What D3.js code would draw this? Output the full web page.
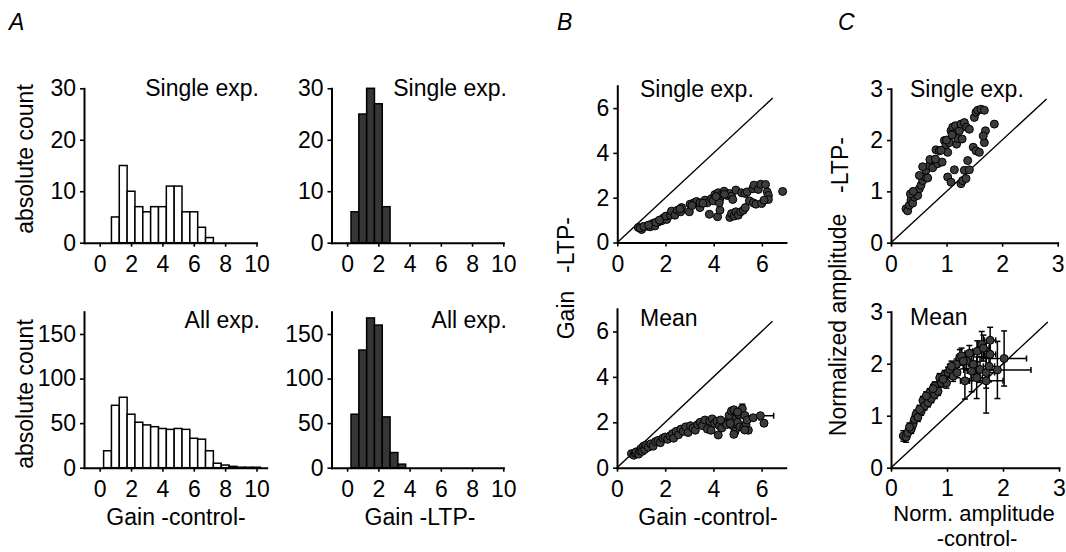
<!DOCTYPE html>
<html><head><meta charset="utf-8">
<script src="https://cdn.jsdelivr.net/npm/d3@7"></script>
<style>
body{margin:0;background:#fff;}
svg text{font-family:"Liberation Sans",Arial,Helvetica,sans-serif;}
</style></head><body>
<svg id="chart" width="1066" height="552"></svg>
<script>
// ---------- DATA ----------
const binWidth = 0.5;
const histTicksX = [0, 2, 4, 6, 8, 10];
const histTicksYSingle = [0, 10, 20, 30];
const histTicksYAll = [0, 50, 100, 150];

const singleControlBins = [0.75,1.25,1.75,2.25,2.75,3.25,3.75,4.25,4.75,5.25,5.75,6.25,6.75];
const singleControlCounts = [5,15,10,7,6,7,7,11,11,6,6,3,1];
const singleLTPBins = [0.25,0.75,1.25,1.75,2.25];
const singleLTPCounts = [6,25,30,27,7];
const allControlBins = [0.25,0.75,1.25,1.75,2.25,2.75,3.25,3.75,4.25,4.75,5.25,5.75,6.25,6.75,7.25,7.75,8.25,8.75,9.25,9.75];
const allControlCounts = [19,70,79,60,51,48,46,44,43,44,43,33,32,19,5,3,1.5,0.6,0.5,0.5];
const allLTPBins = [0.25,0.75,1.25,1.75,2.25,2.75,3.25];
const allLTPCounts = [60,132,168,160,57,17,4];

const gainTicks = [0, 2, 4, 6];
const ampTicks = [0, 1, 2, 3];
const gainIdentityMax = 6.45;
const ampIdentityMax = 2.8;

// B single experiment: gain control vs gain LTP
const bSingleX = [0.87,1.01,1.22,1.36,1.47,1.56,1.70,1.84,1.91,2.05,2.02,2.21,2.25,2.39,2.49,2.63,2.67,2.99,3.02,3.18,3.29,3.43,3.43,3.64,3.73,3.91,3.98,4.05,4.19,4.26,4.36,4.43,4.56,4.65,4.74,4.79,4.92,5.16,5.30,5.39,5.62,5.67,5.85,5.95,6.15,6.22,6.27,6.27,6.86,
  3.82,4.16,4.26,4.23,4.67,4.74,4.85,4.92,5.02,5.12,5.23,5.31,5.48,5.64,5.75,5.99,6.09,
  0.95,1.10,1.30,1.60,1.75,2.60,3.10,3.55,4.10,4.45];
const bSingleY = [0.67,0.58,0.73,0.70,0.85,0.74,0.92,0.97,1.09,1.03,1.18,1.22,1.40,1.22,1.44,1.37,1.56,1.37,1.71,1.77,1.83,1.56,1.77,1.89,1.77,1.96,1.86,2.14,2.22,1.96,2.16,2.29,2.10,2.19,2.07,1.92,2.34,2.22,2.19,2.26,2.40,2.56,2.37,2.60,2.59,2.26,2.10,1.92,2.28,
  1.26,1.15,1.44,1.77,1.12,1.29,1.18,1.37,1.22,1.37,1.44,1.56,1.86,1.77,1.71,1.74,1.89,
  0.65,0.72,0.78,0.90,1.00,1.50,1.65,1.75,2.05,2.15];

// B mean
const bMeanX = [0.6,0.7,0.75,0.8,0.9,0.95,1.0,1.05,1.1,1.15,
  1.2,1.3,1.4,1.5,1.6,1.7,1.8,1.9,2.0,2.1,
  2.2,2.3,2.35,2.45,2.55,2.65,2.75,2.85,2.95,3.05,
  3.15,3.25,3.35,3.45,3.55,3.65,3.75,3.85,3.95,4.05,
  4.15,4.25,4.35,4.45,4.55,4.65,4.75,4.8,4.85,4.9,
  4.95,5.0,5.05,5.1,5.2,5.25,5.3,5.35,5.4,5.45,
  5.65,5.95,6.1,4.3,3.9,4.7,5.0,4.2,4.85,5.3];
const bMeanY = [0.62,0.55,0.65,0.70,0.60,0.75,0.85,0.72,0.95,0.80,
  1.00,0.90,1.05,0.95,1.15,1.20,1.10,1.30,1.35,1.25,
  1.40,1.50,1.30,1.60,1.45,1.70,1.60,1.80,1.55,1.85,
  1.75,1.65,1.90,2.00,1.85,2.10,1.70,2.05,2.15,1.95,
  2.05,1.85,1.75,2.00,1.90,2.30,2.50,1.85,2.55,1.60,
  2.20,2.00,2.35,1.80,2.60,1.75,2.30,1.90,2.10,1.65,
  2.20,2.29,1.96,2.10,1.65,1.95,2.45,1.44,1.47,1.66];
const bMeanXErr = [0.05,0.05,0.05,0.05,0.05,0.05,0.05,0.05,0.05,0.05,
  0.05,0.05,0.05,0.05,0.05,0.05,0.05,0.05,0.05,0.05,
  0.06,0.06,0.06,0.06,0.06,0.06,0.06,0.06,0.06,0.06,
  0.08,0.08,0.08,0.08,0.08,0.08,0.08,0.08,0.08,0.08,
  0.1,0.1,0.1,0.1,0.1,0.1,0.1,0.1,0.1,0.1,
  0.12,0.12,0.12,0.12,0.12,0.12,0.12,0.12,0.12,0.12,
  0.25,0.55,0.1,0.1,0.08,0.1,0.12,0.1,0.1,0.12];
const bMeanYErr = [0.05,0.05,0.05,0.05,0.05,0.05,0.05,0.05,0.05,0.05,
  0.05,0.05,0.05,0.05,0.05,0.05,0.05,0.05,0.05,0.05,
  0.06,0.06,0.06,0.06,0.06,0.06,0.06,0.06,0.06,0.06,
  0.08,0.08,0.08,0.08,0.08,0.08,0.08,0.08,0.08,0.08,
  0.08,0.08,0.08,0.08,0.08,0.1,0.1,0.08,0.12,0.1,
  0.1,0.1,0.1,0.1,0.2,0.1,0.1,0.1,0.1,0.1,
  0.1,0.1,0.1,0.08,0.08,0.1,0.1,0.1,0.1,0.1];

// C single experiment: normalized amplitude
const cSingleX = [0.27,0.30,0.33,0.36,0.39,0.42,0.45,0.48,0.51,0.54,0.57,0.60,0.63,0.66,
  0.69,0.75,0.78,0.84,0.81,0.87,0.92,0.96,0.99,1.02,
  1.05,1.08,1.11,1.14,1.16,1.18,1.20,1.23,1.26,1.28,
  1.32,1.36,1.41,1.50,1.53,1.56,1.62,1.68,1.86,
  1.02,1.08,1.14,1.26,1.29,1.32,1.35,1.38,1.41,1.48,1.53,1.59,1.68,1.70,1.66,
  0.35,0.40,0.57,0.51,0.70,0.80,0.90,1.00,1.10];
const cSingleY = [0.66,0.62,0.73,0.83,0.77,0.89,0.99,0.92,1.05,1.12,1.21,1.29,1.41,1.26,
  1.50,1.46,1.60,1.54,1.81,1.79,1.57,1.99,1.91,1.76,
  1.95,2.18,2.25,2.12,2.28,1.92,2.03,2.18,2.31,2.02,
  2.34,2.25,2.21,2.44,2.54,2.58,2.60,2.58,2.31,
  1.28,1.18,1.42,1.15,1.21,1.41,1.25,1.60,1.42,1.86,1.79,1.76,1.95,2.18,2.08,
  0.95,1.00,1.48,1.31,1.62,1.63,1.80,2.00,2.10];

// C mean
const cMeanX = [0.22,0.27,0.30,0.36,0.39,0.42,0.45,0.48,0.54,0.57,
  0.60,0.66,0.69,0.72,0.78,0.78,0.84,0.87,0.90,0.96,
  0.99,1.02,1.05,1.11,1.17,1.18,1.23,1.26,1.32,1.35,
  1.44,1.47,1.53,1.54,1.59,1.62,1.70,1.70,1.77,1.77,
  1.90,2.02,
  0.33,0.51,0.63,0.75,0.93,1.08,1.29,1.40,1.65,1.75];
const cMeanY = [0.61,0.59,0.67,0.74,0.83,0.93,1.03,0.97,1.09,1.29,
  1.19,1.25,1.44,1.33,1.41,1.57,1.47,1.73,1.63,1.79,
  1.63,1.83,1.89,1.76,1.99,1.83,2.12,2.15,1.67,2.05,
  1.86,1.99,1.73,2.24,1.89,2.37,1.67,1.83,2.18,2.45,
  1.88,2.10,
  0.78,1.12,1.38,1.52,1.70,1.95,2.05,2.20,2.30,1.95];
const cMeanXErr = [0.03,0.03,0.03,0.03,0.03,0.03,0.03,0.03,0.03,0.03,
  0.03,0.03,0.03,0.03,0.04,0.04,0.04,0.04,0.04,0.04,
  0.04,0.05,0.05,0.05,0.05,0.05,0.06,0.06,0.08,0.06,
  0.08,0.08,0.1,0.08,0.1,0.08,0.3,0.15,0.1,0.1,
  0.6,0.4,
  0.03,0.03,0.04,0.04,0.04,0.05,0.06,0.08,0.1,0.1];
const cMeanYErr = [0.1,0.1,0.08,0.08,0.08,0.08,0.08,0.08,0.08,0.08,
  0.08,0.08,0.08,0.08,0.08,0.08,0.08,0.08,0.08,0.08,
  0.1,0.1,0.1,0.1,0.1,0.1,0.15,0.15,0.35,0.15,
  0.4,0.2,0.4,0.2,0.25,0.25,0.62,0.3,0.3,0.25,
  0.55,0.53,
  0.08,0.08,0.08,0.08,0.1,0.1,0.15,0.15,0.25,0.3];

// ---------- DRAWING ----------
const svg = d3.select("#chart");
const FONT = "'Liberation Sans', Arial, Helvetica, sans-serif";
const FS = 23;

function styleAxis(g) {
  g.attr("font-size", FS).attr("font-family", FONT);
  g.selectAll("path").attr("stroke", "#000").attr("stroke-width", 2).attr("stroke-linecap", "square");
  g.selectAll("line").attr("stroke", "#000").attr("stroke-width", 1.6);
  g.selectAll("text").attr("fill", "#000");
}

function drawAxes(xs, ys, xTicks, yTicks, xPad) {
  const gx = svg.append("g")
    .attr("transform", `translate(0,${ys.range()[0]})`)
    .call(d3.axisBottom(xs).tickValues(xTicks).tickSize(4).tickPadding(xPad || 9).tickSizeOuter(0).tickFormat(d3.format("d")));
  styleAxis(gx);
  const gy = svg.append("g")
    .attr("transform", `translate(${xs.range()[0]},0)`)
    .call(d3.axisLeft(ys).tickValues(yTicks).tickSize(4).tickPadding(4).tickSizeOuter(0).tickFormat(d3.format("d")));
  styleAxis(gy);
}

function histogram(xs, ys, bins, counts, fill) {
  svg.append("g").selectAll("rect").data(bins).join("rect")
    .attr("x", d => xs(d))
    .attr("width", d => xs(d + binWidth) - xs(d))
    .attr("y", (d, i) => ys(counts[i]))
    .attr("height", (d, i) => ys(0) - ys(counts[i]))
    .attr("fill", fill).attr("stroke", "#000").attr("stroke-width", 1.5);
}

function identity(xs, ys, maxV) {
  svg.append("line")
    .attr("x1", xs(0)).attr("y1", ys(0)).attr("x2", xs(maxV)).attr("y2", ys(maxV))
    .attr("stroke", "#000").attr("stroke-width", 1.4);
}

function scatter(xs, ys, X, Y) {
  svg.append("g").selectAll("circle").data(X).join("circle")
    .attr("cx", d => xs(d)).attr("cy", (d, i) => ys(Y[i])).attr("r", 4)
    .attr("fill", "#3c3c3c").attr("stroke", "#000").attr("stroke-width", 1);
}

function errorBars(xs, ys, X, Y, XE, YE) {
  const g = svg.append("g").attr("stroke", "#000").attr("stroke-width", 1.5);
  const cap = 3;
  X.forEach((x, i) => {
    const cx = xs(x), cy = ys(Y[i]);
    const y1 = ys(Y[i] - YE[i]), y2 = ys(Y[i] + YE[i]);
    g.append("line").attr("x1", cx).attr("x2", cx).attr("y1", y1).attr("y2", y2);
    g.append("line").attr("x1", cx - cap).attr("x2", cx + cap).attr("y1", y1).attr("y2", y1);
    g.append("line").attr("x1", cx - cap).attr("x2", cx + cap).attr("y1", y2).attr("y2", y2);
    const x1 = xs(x - XE[i]), x2 = xs(x + XE[i]);
    g.append("line").attr("x1", x1).attr("x2", x2).attr("y1", cy).attr("y2", cy);
    g.append("line").attr("x1", x1).attr("x2", x1).attr("y1", cy - cap).attr("y2", cy + cap);
    g.append("line").attr("x1", x2).attr("x2", x2).attr("y1", cy - cap).attr("y2", cy + cap);
  });
}

function label(txt, x, y, anchor, rotate, italic, size) {
  const t = svg.append("text")
    .attr("transform", `translate(${x},${y})` + (rotate ? " rotate(-90)" : ""))
    .attr("text-anchor", anchor || "start")
    .attr("font-size", size || FS).attr("font-family", FONT).attr("fill", "#000")
    .text(txt);
  if (italic) t.attr("font-style", "italic");
  return t;
}

// ---- Panel A ----
const yTop = d3.scaleLinear().domain([0, 30]).range([242.7, 88.3]);
const yBot = d3.scaleLinear().domain([0, 175]).range([467.7, 311.7]);
const xAL = d3.scaleLinear().domain([-1, 10]).range([84, 256.5]);
const xALb = d3.scaleLinear().domain([-1, 10.65]).range([84, 84 + 11.65 * (172.5 / 11)]);
const xAR = d3.scaleLinear().domain([-1, 10]).range([331.5, 503.3]);

histogram(xAL, yTop, singleControlBins, singleControlCounts, "#fff");
drawAxes(xAL, yTop, histTicksX, histTicksYSingle);
histogram(xAR, yTop, singleLTPBins, singleLTPCounts, "#363636");
drawAxes(xAR, yTop, histTicksX, histTicksYSingle);
histogram(xALb, yBot, allControlBins, allControlCounts, "#fff");
drawAxes(xALb, yBot, histTicksX, histTicksYAll);
histogram(xAR, yBot, allLTPBins, allLTPCounts, "#363636");
drawAxes(xAR, yBot, histTicksX, histTicksYAll);

label("Single exp.", 259, 96, "end");
label("Single exp.", 507, 96, "end");
label("All exp.", 260, 328, "end");
label("All exp.", 507, 328, "end");
label("absolute count", 33, 159, "middle", true);
label("absolute count", 33, 394, "middle", true);
label("Gain -control-", 176, 525, "middle");
label("Gain -LTP-", 420, 525, "middle");

// ---- Panel B ----
const xBT = d3.scaleLinear().domain([0, 7]).range([617.3, 786]);
const yBT = d3.scaleLinear().domain([0, 7]).range([242.5, 85.7]);
const xBB = d3.scaleLinear().domain([0, 7]).range([617, 785.7]);
const yBB = d3.scaleLinear().domain([0, 7]).range([467.7, 308.8]);

identity(xBT, yBT, gainIdentityMax);
scatter(xBT, yBT, bSingleX, bSingleY);
drawAxes(xBT, yBT, gainTicks, gainTicks);
identity(xBB, yBB, gainIdentityMax);
errorBars(xBB, yBB, bMeanX, bMeanY, bMeanXErr, bMeanYErr);
scatter(xBB, yBB, bMeanX, bMeanY);
drawAxes(xBB, yBB, gainTicks, gainTicks);

label("Single exp.", 640, 97, "start");
label("Mean", 640, 326, "start");
label("-LTP-", 574, 245, "middle", true);
label("Gain", 574, 315, "middle", true);
label("Gain -control-", 708, 525, "middle");

// ---- Panel C ----
const xCT = d3.scaleLinear().domain([0, 3]).range([891, 1057.7]);
const yCT = d3.scaleLinear().domain([0, 3]).range([242.7, 88.7]);
const xCB = d3.scaleLinear().domain([0, 3]).range([891, 1059]);
const yCB = d3.scaleLinear().domain([0, 3]).range([467.7, 311.7]);

identity(xCT, yCT, ampIdentityMax);
scatter(xCT, yCT, cSingleX, cSingleY);
drawAxes(xCT, yCT, ampTicks, ampTicks);
identity(xCB, yCB, ampIdentityMax);
errorBars(xCB, yCB, cMeanX, cMeanY, cMeanXErr, cMeanYErr);
scatter(xCB, yCB, cMeanX, cMeanY);
drawAxes(xCB, yCB, ampTicks, ampTicks, 8);

label("Single exp.", 910, 97, "start");
label("Mean", 910, 325, "start");
label("-LTP-", 848, 165, "middle", true);
label("Normalized amplitude", 846, 325, "middle", true);
label("Norm. amplitude", 974, 521, "middle", false, false, 22);
label("-control-", 977, 546, "middle", false, false, 22);

// panel letters
label("A", 9, 30, "start", false, true);
label("B", 557, 30, "start", false, true);
label("C", 838, 30, "start", false, true);
</script>
</body></html>
